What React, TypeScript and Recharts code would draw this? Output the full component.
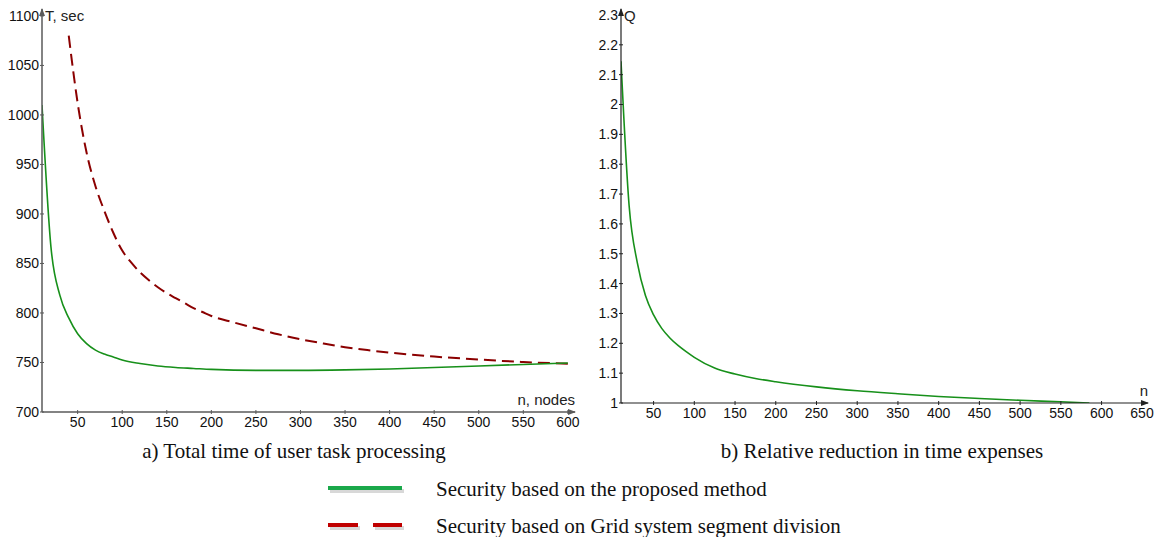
import React from "react";
import { LineChart, Line, XAxis, YAxis } from "recharts";

// ---- Data ----
const seriesNames = [
  "Security based on the proposed method",
  "Security based on Grid system segment division",
];
const captions = [
  "a) Total time of user task processing",
  "b) Relative reduction in time expenses",
];

// Panel a: total time T (sec) vs n (nodes)
const proposedN = [10, 20, 30, 40, 50, 60, 70, 80, 90, 100, 120, 140, 160, 180, 200, 250, 300, 350, 400, 450, 500, 550, 600];
const proposedT = [1010, 867, 818, 795, 779, 769, 762.5, 758.5, 755.5, 752.5, 749, 746.5, 745, 744, 743, 742, 742, 742.5, 743.5, 745, 746.5, 748, 749.5];

const gridN = [40, 50, 60, 70, 80, 90, 100, 110, 120, 130, 140, 150, 160, 170, 180, 190, 200, 225, 250, 275, 300, 325, 350, 375, 400, 450, 500, 550, 600];
const gridT = [1080, 1012, 962, 928, 903, 881, 863, 851, 841, 833, 826, 820, 815, 810, 805, 801, 797, 790.5, 784.5, 778.5, 773.5, 769.3, 765.5, 762.5, 760, 756, 753, 750.5, 748.7];

// Panel b: relative reduction Q vs n
const qN = [10, 20, 30, 40, 50, 60, 70, 80, 90, 100, 125, 150, 175, 200, 250, 300, 350, 400, 450, 500, 550, 585];
const qValues = [2.145, 1.66, 1.47, 1.36, 1.295, 1.25, 1.218, 1.193, 1.172, 1.153, 1.117, 1.097, 1.082, 1.071, 1.054, 1.041, 1.031, 1.022, 1.015, 1.009, 1.004, 1.0];

const leftXTicks = [50, 100, 150, 200, 250, 300, 350, 400, 450, 500, 550, 600];
const leftYTicks = [700, 750, 800, 850, 900, 950, 1000, 1050, 1100];
const rightXTicks = [50, 100, 150, 200, 250, 300, 350, 400, 450, 500, 550, 600, 650];
const rightYTicks = [1, 1.1, 1.2, 1.3, 1.4, 1.5, 1.6, 1.7, 1.8, 1.9, 2, 2.1, 2.2, 2.3];

const proposedData = proposedN.map((n, i) => ({ n, v: proposedT[i] }));
const gridData = gridN.map((n, i) => ({ n, v: gridT[i] }));
const qData = qN.map((n, i) => ({ n, v: qValues[i] }));

const FONT = "'Liberation Sans', Arial, sans-serif";
const SERIF = "'Liberation Serif', 'Times New Roman', serif";
const GREEN = "#17901a";
const DARKRED = "#8b0000";

const makeXTick = (color: string) => (props: any) => {
  const { x, y, payload } = props;
  const axisY = y - 6;
  return (
    <g>
      <line x1={x} x2={x} y1={axisY - 2} y2={axisY + 2} stroke={color} strokeWidth={1} />
      <text x={x} y={axisY + 5} dy="0.71em" textAnchor="middle" fontSize={14} fontFamily={FONT} fill="#111">
        {payload.value}
      </text>
    </g>
  );
};

const makeYTick = (color: string) => (props: any) => {
  const { x, y, payload } = props;
  const axisX = x + 5;
  return (
    <g>
      <line x1={axisX - 2} x2={axisX + 2} y1={y} y2={y} stroke={color} strokeWidth={1} />
      <text x={axisX - 3} y={y} dy="0.355em" textAnchor="end" fontSize={14} fontFamily={FONT} fill="#111">
        {payload.value}
      </text>
    </g>
  );
};

const makeYLabel = (text: string, color: string) => (props: any) => {
  const vb = props.viewBox || {};
  const ax = (vb.x || 0) + (vb.width || 0);
  const top = vb.y || 0;
  return (
    <g>
      <polygon points={`${ax},${top - 1} ${ax - 3},${top + 7} ${ax + 3},${top + 7}`} fill={color} />
      <text x={ax + 3} y={top + 12} fontSize={15} fontFamily={FONT} fill="#222">
        {text}
      </text>
    </g>
  );
};

const makeXLabel = (text: string, color: string) => (props: any) => {
  const vb = props.viewBox || {};
  const right = (vb.x || 0) + (vb.width || 0);
  const ay = vb.y || 0;
  return (
    <g>
      <polygon points={`${right + 1},${ay} ${right - 7},${ay - 3} ${right - 7},${ay + 3}`} fill={color} />
      <text x={right} y={ay - 7} textAnchor="end" fontSize={15} fontFamily={FONT} fill="#222">
        {text}
      </text>
    </g>
  );
};

export default function App() {
  const leftAxis = "#5a5a5a";
  const rightAxis = "#222";
  return (
    <div style={{ position: "absolute", left: 0, top: 0, width: 1154, height: 537, background: "#fff" }}>
      <div style={{ position: "absolute", left: 0, top: 0 }}>
        <LineChart width={600} height={440} margin={{ top: 9, right: 25, left: 0, bottom: 0 }}>
          <XAxis
            type="number"
            dataKey="n"
            domain={[10, 608]}
            ticks={leftXTicks}
            allowDataOverflow
            height={28}
            stroke={leftAxis}
            strokeWidth={1.5}
            tickLine={false}
            tickSize={0}
            tickMargin={6}
            tick={makeXTick(leftAxis)}
            label={makeXLabel("n, nodes", leftAxis)}
          />
          <YAxis
            type="number"
            domain={[700, 1107]}
            ticks={leftYTicks}
            allowDataOverflow
            width={42}
            stroke={leftAxis}
            strokeWidth={1.5}
            tickLine={false}
            tickSize={0}
            tickMargin={5}
            tick={makeYTick(leftAxis)}
            label={makeYLabel("T, sec", leftAxis)}
          />
          <Line
            data={gridData}
            dataKey="v"
            type="monotone"
            stroke={DARKRED}
            strokeWidth={2}
            strokeDasharray="12 6"
            dot={false}
            isAnimationActive={false}
          />
          <Line
            data={proposedData}
            dataKey="v"
            type="monotone"
            stroke={GREEN}
            strokeWidth={1.6}
            dot={false}
            isAnimationActive={false}
          />
        </LineChart>
      </div>
      <div style={{ position: "absolute", left: 580, top: 0 }}>
        <LineChart width={574} height={440} margin={{ top: 9, right: 6, left: 0, bottom: 0 }}>
          <XAxis
            type="number"
            dataKey="n"
            domain={[10, 657]}
            ticks={rightXTicks}
            allowDataOverflow
            height={37}
            stroke={rightAxis}
            strokeWidth={1.2}
            tickLine={false}
            tickSize={0}
            tickMargin={6}
            tick={makeXTick(rightAxis)}
            label={makeXLabel("n", rightAxis)}
          />
          <YAxis
            type="number"
            domain={[1, 2.32]}
            ticks={rightYTicks}
            allowDataOverflow
            width={41}
            stroke={rightAxis}
            strokeWidth={1.2}
            tickLine={false}
            tickSize={0}
            tickMargin={5}
            tick={makeYTick(rightAxis)}
            label={makeYLabel("Q", rightAxis)}
          />
          <Line
            data={qData}
            dataKey="v"
            type="monotone"
            stroke={GREEN}
            strokeWidth={1.6}
            dot={false}
            isAnimationActive={false}
          />
        </LineChart>
      </div>
      <svg
        width={1154}
        height={537}
        style={{ position: "absolute", left: 0, top: 0, pointerEvents: "none" }}
      >
        <text x={294} y={458} textAnchor="middle" fontSize={21} fontFamily={SERIF} fill="#111">
          {captions[0]}
        </text>
        <text x={882} y={458} textAnchor="middle" fontSize={21} fontFamily={SERIF} fill="#111">
          {captions[1]}
        </text>
        {/* legend */}
        <line x1={330} x2={404} y1={491} y2={491} stroke="#d8d8d8" strokeWidth={4} />
        <line x1={328} x2={402} y1={488} y2={488} stroke="#1aa84a" strokeWidth={4} />
        <text x={436} y={496} fontSize={21} fontFamily={SERIF} fill="#111">
          {seriesNames[0]}
        </text>
        <line x1={330} x2={360} y1={528} y2={528} stroke="#d8d8d8" strokeWidth={4} />
        <line x1={375} x2={404} y1={528} y2={528} stroke="#d8d8d8" strokeWidth={4} />
        <line x1={328} x2={358} y1={525} y2={525} stroke="#c00000" strokeWidth={4} />
        <line x1={373} x2={402} y1={525} y2={525} stroke="#c00000" strokeWidth={4} />
        <text x={436} y={533} fontSize={21} fontFamily={SERIF} fill="#111">
          {seriesNames[1]}
        </text>
      </svg>
    </div>
  );
}
